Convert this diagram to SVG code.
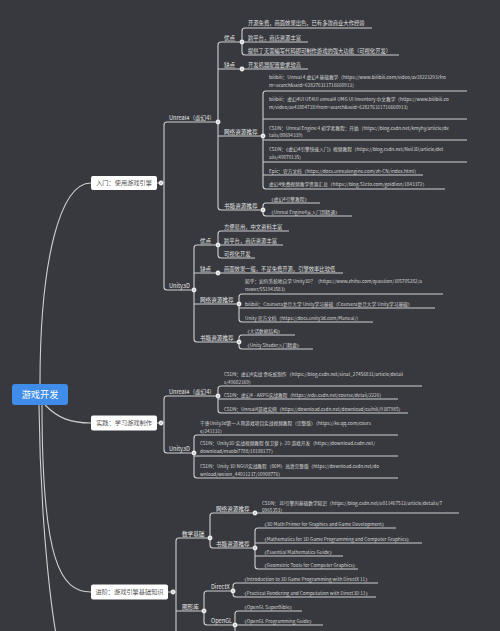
<svg xmlns="http://www.w3.org/2000/svg" width="500" height="631" viewBox="0 0 500 631">
<style>
text{font-family:"Noto Sans CJK SC","Noto Sans","Liberation Sans",sans-serif}
.ln{fill:none;stroke:#d0d0d0;stroke-width:1.1}
.lbl{fill:#e6e6e6;font-size:5.6px}
.leaf{fill:#e0e0e0;font-size:5.3px}
.url{fill:#d8d8d8;font-size:4.7px}
.br{fill:#555;font-size:6.2px;text-anchor:middle}
.box{fill:#fff}
.dot{fill:#fff;stroke:#8a8a8a;stroke-width:0.4}
</style>
<rect width="500" height="631" fill="#37393e"/>
<defs>
<g id="d"><circle r="2.4" class="dot"/><circle r="0.7" fill="#777"/></g>
</defs>
<g id="connectors">
<path class="ln" d="M40,384 C40,260 60,183 91,183"/>
<path class="ln" d="M45,405 C58,418 70,423 91,423"/>
<path class="ln" d="M42,405 C42,560 60,592 91,592"/>
<path class="ln" d="M39,405 C40,500 48,590 57,640"/>
<path class="ln" d="M157,183 H164 M218,122 H167 Q164,122 164,125 V287 Q164,290 167,290 H194"/>
<path class="ln" d="M242,42 H221 Q218,42 218,45 V207 Q218,210 221,210 H263 M218,69 H242 M218,136 H263"/>
<path class="ln" d="M372,28 H245 Q242,28 242,31 V52 Q242,55 245,55 H399 M242,42 H308"/>
<path class="ln" d="M242,69 H308"/>
<path class="ln" d="M467,91 H266 Q263,91 263,94 V186 Q263,189 266,189 H445 M263,119 H467 M263,140 H467 M263,162 H467 M263,175 H423"/>
<path class="ln" d="M320,203 H266 Q263,203 263,206 V213 Q263,216 266,216 H352"/>
<path class="ln" d="M218,245 H197 Q194,245 194,248 V339 Q194,342 197,342 H239 M194,273 H218 M194,304 H239"/>
<path class="ln" d="M289,231 H221 Q218,231 218,234 V255 Q218,258 221,258 H255 M218,245 H283"/>
<path class="ln" d="M218,273 H343"/>
<path class="ln" d="M443,294 H242 Q239,294 239,297 V319 Q239,322 242,322 H373 M239,308 H435"/>
<path class="ln" d="M295,335 H242 Q239,335 239,338 V346 Q239,349 242,349 H313"/>
<path class="ln" d="M157,423 H164 M218,396 H167 Q164,396 164,399 V450 Q164,453 167,453 H194"/>
<path class="ln" d="M422,386 H221 Q218,386 218,389 V410 Q218,413 221,413 H408 M218,399 H398"/>
<path class="ln" d="M398,435 H197 Q194,435 194,438 V475 Q194,478 197,478 H398 M194,456 H398"/>
<path class="ln" d="M168,592 H176 M210,538 H179 Q176,538 176,541 V640 M176,611 H204"/>
<path class="ln" d="M255,513 H213 Q210,513 210,516 V545 Q210,548 213,548 H255"/>
<path class="ln" d="M255,513 H459"/>
<path class="ln" d="M396,528 H258 Q255,528 255,531 V566 Q255,569 258,569 H358 M255,543 H422 M255,556 H343"/>
<path class="ln" d="M233,591 H207 Q204,591 204,594 V622 Q204,625 207,625 H235"/>
<path class="ln" d="M378,583 H236 Q233,583 233,586 V594 Q233,597 236,597 H376"/>
<path class="ln" d="M302,611 H238 Q235,611 235,614 V640 M235,625 H323"/>
</g>
<g id="root">
<rect x="12" y="384" width="56" height="21" rx="3" fill="#3f8de8"/>
<text x="40" y="398" fill="#fff" font-size="9.2" text-anchor="middle">游戏开发</text>
</g>
<g id="b1">
<rect class="box" x="91" y="176" width="66" height="14" rx="2"/>
<text class="br" x="124" y="185.2">入门：使用游戏引擎</text>
<use href="#d" x="161" y="183"/>
</g>
<g id="b2">
<rect class="box" x="91" y="415.5" width="66" height="15" rx="2"/>
<text class="br" x="124" y="425.2">实践：学习游戏制作</text>
<use href="#d" x="161" y="423"/>
</g>
<g id="b3">
<rect class="box" x="91" y="584.5" width="77" height="15" rx="2"/>
<text class="br" x="129.5" y="594.2">进阶：游戏引擎基础知识</text>
<use href="#d" x="173" y="592"/>
</g>
<g id="n-ue4"><text class="lbl" x="169" y="119.5">Unreal4（虚幻4）</text><use href="#d" x="218" y="122"/></g>
<g id="n-ue4-pro"><text class="lbl" x="224" y="39.5">优点</text><use href="#d" x="242" y="42"/></g>
<g id="n-ue4-pro-1"><text class="leaf" x="248" y="25">开源免费，画面效果出色，已有多款商业大作经验</text></g>
<g id="n-ue4-pro-2"><text class="leaf" x="248" y="39.5">跨平台，商店资源丰富</text></g>
<g id="n-ue4-pro-3"><text class="leaf" x="248" y="52.5">提供了无需编写代码即可制作游戏的强大功能（可视化开发）</text></g>
<g id="n-ue4-con"><text class="lbl" x="224" y="66.5">缺点</text><use href="#d" x="242" y="69"/></g>
<g id="n-ue4-con-1"><text class="leaf" x="248" y="66.5">开发机器配置要求较高</text></g>
<g id="n-ue4-web"><text class="lbl" x="224" y="133.5">网络资源推荐</text><use href="#d" x="263" y="136"/></g>
<g id="n-ue4-web-1"><text class="url" x="269" y="79">bilibili：Unreal 4 虚幻4 基础教学（https://www.bilibili.com/video/av18223293?fro</text><text class="url" x="269" y="87">m=search&amp;seid=628276311716660913）</text></g>
<g id="n-ue4-web-2"><text class="url" x="269" y="101">bilibili：虚幻4UI UE4UI unreal4 UMG UI Inventory 中文教学（https://www.bilibili.co</text><text class="url" x="269" y="109">m/video/av41804718?from=search&amp;seid=628276311716660913）</text></g>
<g id="n-ue4-web-3"><text class="url" x="269" y="129.5">CSDN：Unreal Engine 4 初学者教程：开始（https://blog.csdn.net/kmyhy/article/de</text><text class="url" x="269" y="137">tails/80694339）</text></g>
<g id="n-ue4-web-4"><text class="url" x="269" y="151">CSDN：《虚幻4引擎快速入门》视频教程（https://blog.csdn.net/Neil3D/article/det</text><text class="url" x="269" y="159">ails/49070135）</text></g>
<g id="n-ue4-web-5"><text class="url" x="269" y="172.5">Epic：官方文档（https://docs.unrealengine.com/zh-CN/index.html）</text></g>
<g id="n-ue4-web-6"><text class="url" x="269" y="186">虚幻4免费视频教学资源汇总（https://blog.51cto.com/goldlion/1843372）</text></g>
<g id="n-ue4-book"><text class="lbl" x="224" y="207.5">书籍资源推荐</text><use href="#d" x="263" y="210"/></g>
<g id="n-ue4-book-1"><text class="url" x="269" y="200.5">《虚幻4引擎教程》</text></g>
<g id="n-ue4-book-2"><text class="url" x="269" y="213.5">《Unreal Engine4从入门到精通》</text></g>
<g id="n-u3d"><text class="lbl" x="169" y="287.5">Unity3D</text><use href="#d" x="194" y="290"/></g>
<g id="n-u3d-pro"><text class="lbl" x="200" y="242.5">优点</text><use href="#d" x="218" y="245"/></g>
<g id="n-u3d-pro-1"><text class="leaf" x="224" y="228.5">方便易用，中文资料丰富</text></g>
<g id="n-u3d-pro-2"><text class="leaf" x="224" y="242.5">跨平台，商店资源丰富</text></g>
<g id="n-u3d-pro-3"><text class="leaf" x="224" y="255.5">可视化开发</text></g>
<g id="n-u3d-con"><text class="lbl" x="200" y="270.5">缺点</text><use href="#d" x="218" y="273"/></g>
<g id="n-u3d-con-1"><text class="leaf" x="224" y="270.5">画面效果一般，不是免费开源，引擎效率比较低</text></g>
<g id="n-u3d-web"><text class="lbl" x="200" y="301.5">网络资源推荐</text><use href="#d" x="239" y="304"/></g>
<g id="n-u3d-web-1"><text class="url" x="245" y="283">知乎：如何系统地自学 Unity3D？（https://www.zhihu.com/question/305705282/a</text><text class="url" x="245" y="291">nswer/551943583）</text></g>
<g id="n-u3d-web-2"><text class="url" x="245" y="305.5">bilibili：Coursera复旦大学 Unity学习基础（Coursera复旦大学 Unity学习基础）</text></g>
<g id="n-u3d-web-3"><text class="url" x="245" y="319.5">Unity 官方文档（https://docs.unity3d.com/Manual/）</text></g>
<g id="n-u3d-book"><text class="lbl" x="200" y="339.5">书籍资源推荐</text><use href="#d" x="239" y="342"/></g>
<g id="n-u3d-book-1"><text class="url" x="245" y="332.5">《大话数据结构》</text></g>
<g id="n-u3d-book-2"><text class="url" x="245" y="346.5">《Unity Shader入门精要》</text></g>
<g id="n-p-ue4"><text class="lbl" x="169" y="393.5">Unreal4（虚幻4）</text><use href="#d" x="218" y="396"/></g>
<g id="n-p-ue4-1"><text class="url" x="224" y="375.5">CSDN：虚幻4实战 贪吃蛇制作（https://blog.csdn.net/sinat_27456831/article/detail</text><text class="url" x="224" y="383.5">s/49682369）</text></g>
<g id="n-p-ue4-2"><text class="url" x="224" y="397">CSDN：虚幻4 - ARPG实战教程（https://edu.csdn.net/course/detail/2226）</text></g>
<g id="n-p-ue4-3"><text class="url" x="224" y="410.5">CSDN：Unreal4游戏实例（https://download.csdn.net/download/cuihill/9387985）</text></g>
<g id="n-p-u3d"><text class="lbl" x="169" y="450.5">Unity3D</text><use href="#d" x="194" y="453"/></g>
<g id="n-p-u3d-1"><text class="url" x="200" y="425">千锋Unity3d第一人称游戏项目实战视频教程（完整版）（https://ke.qq.com/cours</text><text class="url" x="200" y="432.5">e/241131）</text></g>
<g id="n-p-u3d-2"><text class="url" x="200" y="445">CSDN：Unity3D 实战视频教程 保卫萝卜 2D 游戏开发（https://download.csdn.net/</text><text class="url" x="200" y="453">download/maobi7788/10180177）</text></g>
<g id="n-p-u3d-3"><text class="url" x="200" y="467.5">CSDN：Unity 3D NGUI实战教程（80M）高清完整版（https://download.csdn.net/do</text><text class="url" x="200" y="475.5">wnload/weixin_44011237/10908776）</text></g>
<g id="n-math"><text class="lbl" x="182" y="535.5">数学基础</text><use href="#d" x="210" y="538"/></g>
<g id="n-math-web"><text class="lbl" x="216" y="510.5">网络资源推荐</text><use href="#d" x="255" y="513"/></g>
<g id="n-math-web-1"><text class="url" x="262" y="504.5">CSDN：3D引擎的基础数学知识（https://blog.csdn.net/u011467512/article/details/7</text><text class="url" x="262" y="512">0965353）</text></g>
<g id="n-math-book"><text class="lbl" x="216" y="545.5">书籍资源推荐</text><use href="#d" x="255" y="548"/></g>
<g id="n-math-book-1"><text class="url" x="262" y="525.5">《3D Math Primer for Graphics and Game Development》</text></g>
<g id="n-math-book-2"><text class="url" x="262" y="540.5">《Mathematics for 3D Game Programming and Computer Graphics》</text></g>
<g id="n-math-book-3"><text class="url" x="262" y="553.5">《Essential Mathematics Guide》</text></g>
<g id="n-math-book-4"><text class="url" x="262" y="566.5">《Geometric Tools for Computer Graphics》</text></g>
<g id="n-gfx"><text class="lbl" x="182" y="608.5">图形库</text><use href="#d" x="204" y="611"/></g>
<g id="n-dx"><text class="lbl" x="211" y="588.5">DirectX</text><use href="#d" x="233" y="591"/></g>
<g id="n-dx-1"><text class="url" x="242" y="580.5">《Introduction to 3D Game Programming with DirectX 11》</text></g>
<g id="n-dx-2"><text class="url" x="242" y="594.5">《Practical Rendering and Computation with Direct3D 11》</text></g>
<g id="n-gl"><text class="lbl" x="211" y="622.5">OpenGL</text><use href="#d" x="235" y="625"/></g>
<g id="n-gl-1"><text class="url" x="242" y="608.5">《OpenGL SuperBible》</text></g>
<g id="n-gl-2"><text class="url" x="242" y="622.5">《OpenGL Programming Guide》</text></g>
</svg>
